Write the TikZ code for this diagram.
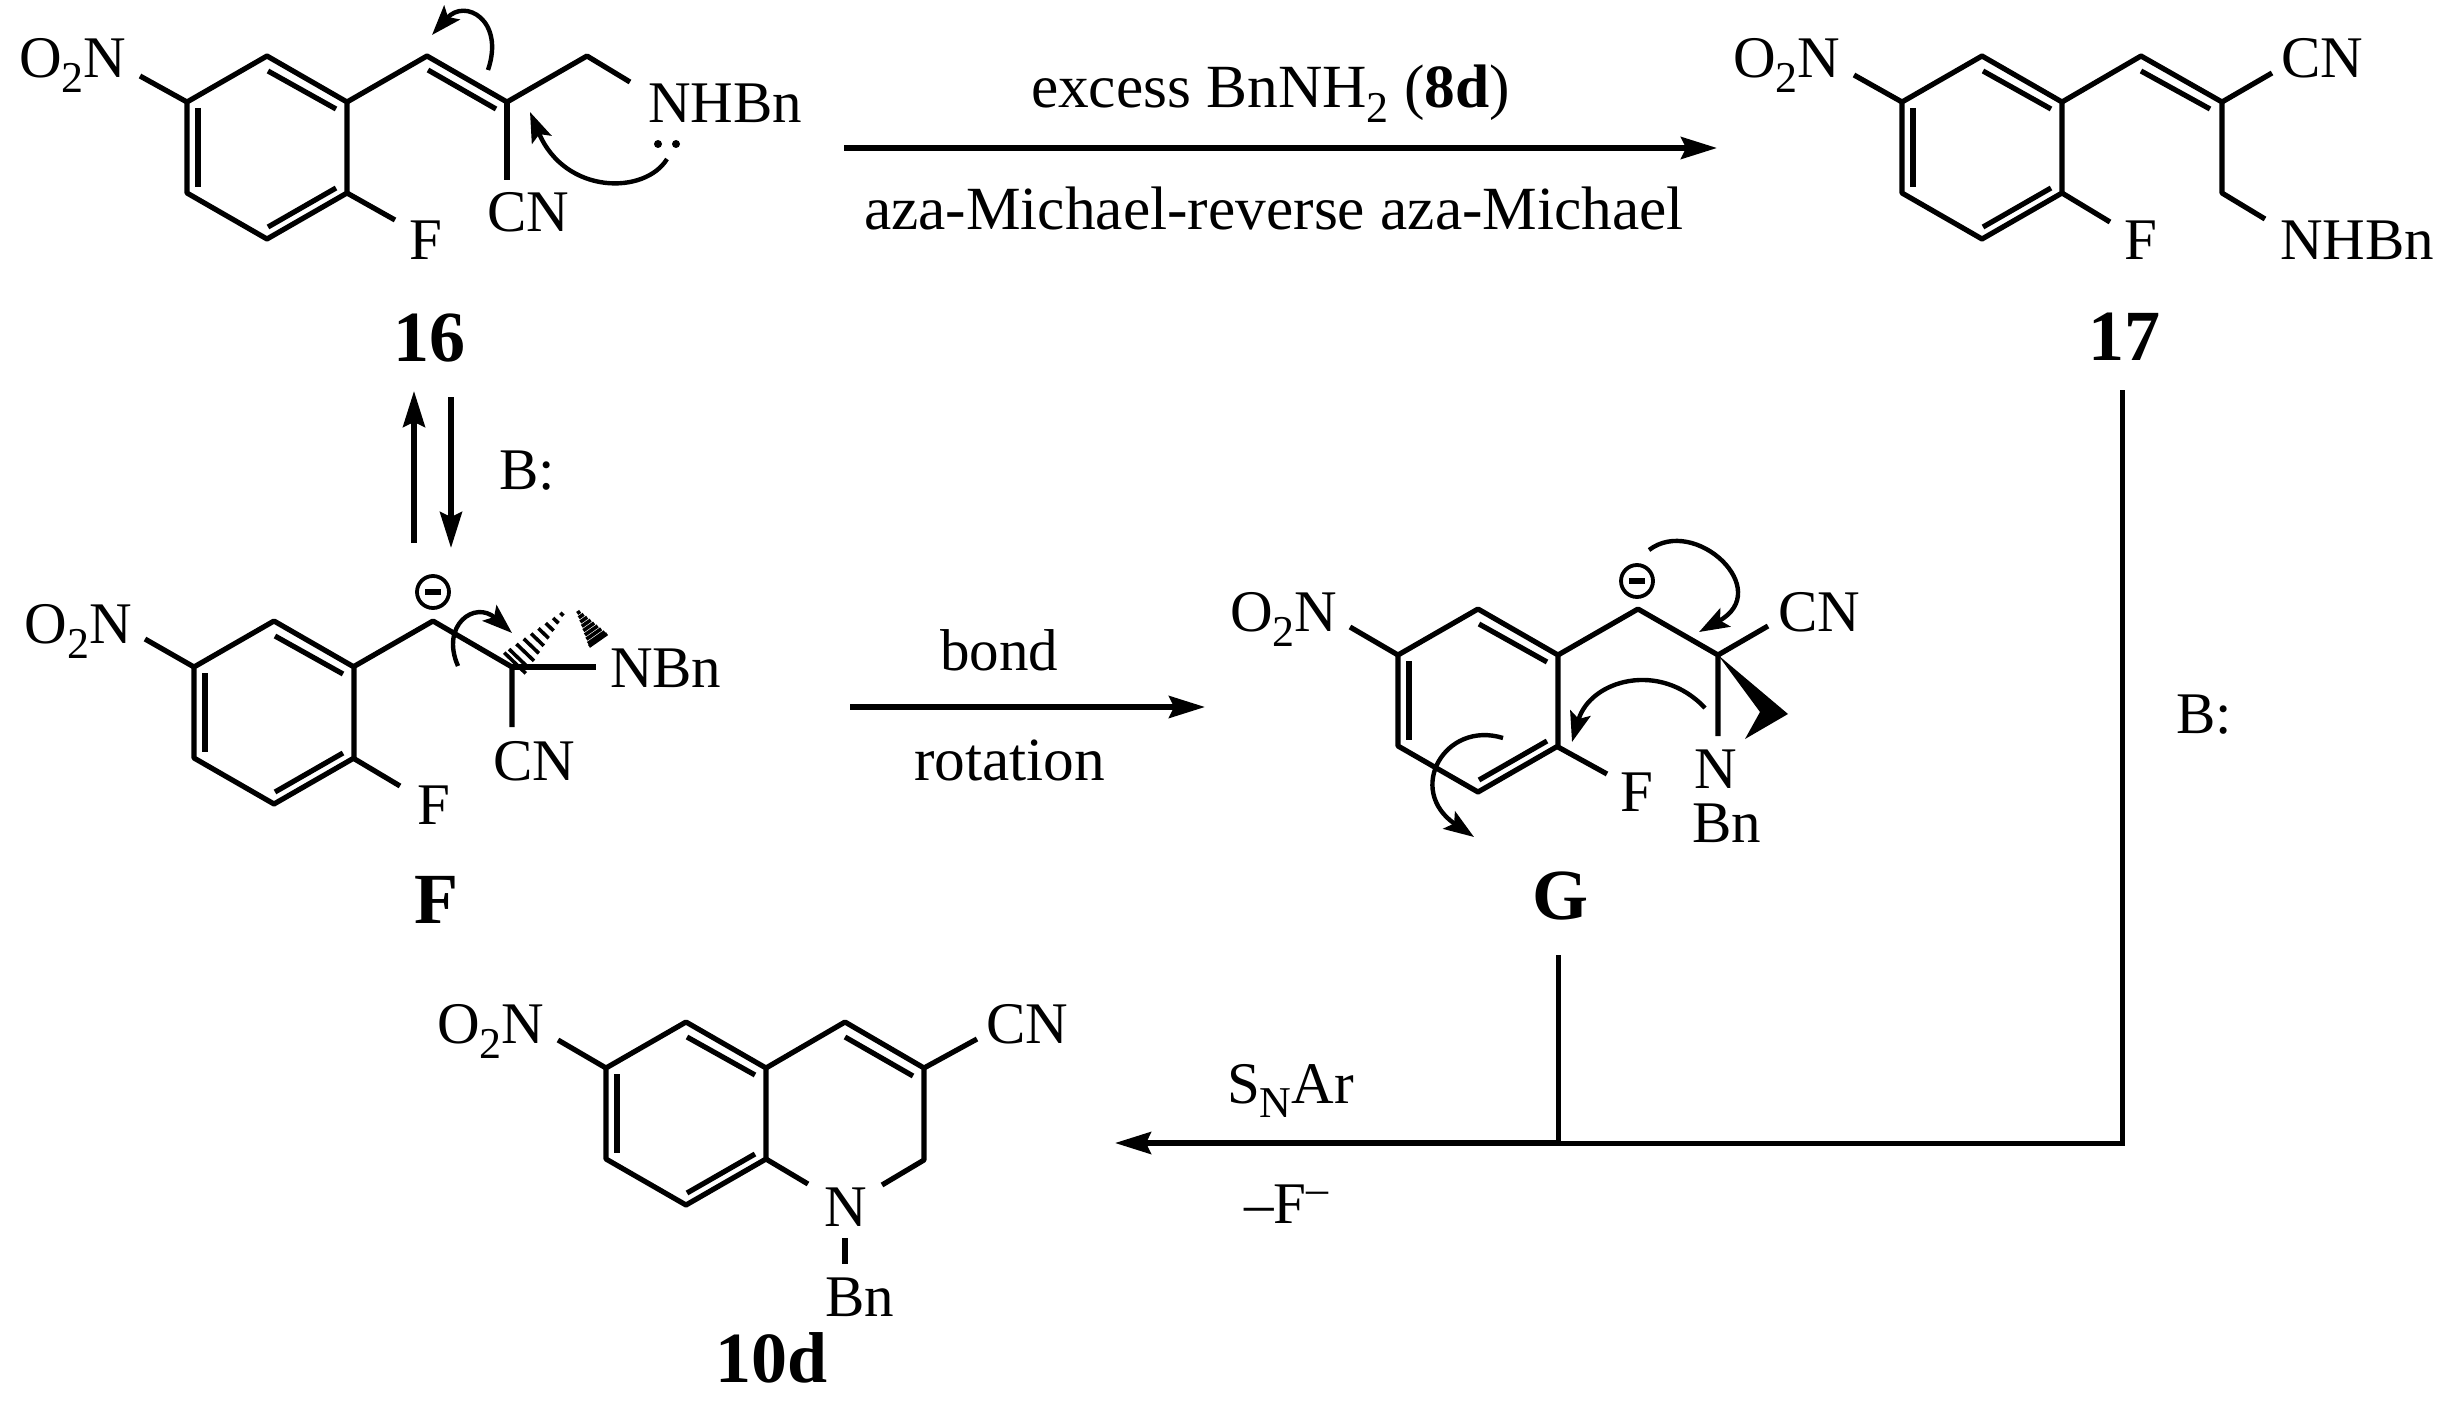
\documentclass[tikz,border=0pt]{standalone}
\usepackage{fontspec}
\setmainfont{Liberation Serif}
\usetikzlibrary{arrows.meta}
\newcommand{\lowtwo}{\raisebox{-7.5pt}{\fontsize{22}{24}\selectfont 2}}
\newcommand{\lowN}{\raisebox{-7pt}{\fontsize{22}{24}\selectfont N}}
\newcommand{\hashw}[5]{% ax ay bx by halfwidth
  \pgfmathsetmacro{\dlen}{veclen(#3-#1,#4-#2)}
  \pgfmathsetmacro{\nnx}{-(#4-#2)/\dlen}
  \pgfmathsetmacro{\nny}{(#3-#1)/\dlen}
  \foreach \tt in {0.08,0.2,0.32,0.44,0.56,0.68,0.8,0.92,1.0}{
    \pgfmathsetmacro{\cx}{#1+\tt*(#3-#1)}
    \pgfmathsetmacro{\cy}{#2+\tt*(#4-#2)}
    \pgfmathsetmacro{\hw}{#5*\tt+1}
    \draw[line width=1.8pt] (\cx-\hw*\nnx,\cy-\hw*\nny) -- (\cx+\hw*\nnx,\cy+\hw*\nny);
  }}
\tikzset{
  x=0.5pt,y=-0.5pt,
  bond/.style={line width=2.6pt,line join=round},
  rxn/.style={line width=2.6pt,-{Stealth[length=18pt,width=11pt,inset=2.5pt]}},
  plainline/.style={line width=2.5pt},
  curly/.style={line width=2.2pt,-{Stealth[length=15pt,width=10.5pt,inset=3pt]}},
  txt/.style={anchor=base west,inner sep=0pt,outer sep=0pt,font=\fontsize{29.5}{32}\selectfont},
  widetxt/.style={txt,font=\fontsize{30.7}{33}\selectfont},
  cpd/.style={anchor=base west,inner sep=0pt,outer sep=0pt,font=\fontsize{36}{38}\selectfont\bfseries},
  arring/.pic={
    \draw[bond] (0,0) -- (80,-46) -- (160,0) -- (160,91) -- (80,137) -- (0,91) -- cycle;
    \draw[bond] (81,-31) -- (149,7);
    \draw[bond] (11,6) -- (11,85);
    \draw[bond] (81,125) -- (149,86);
  },
  minuscharge/.pic={
    \draw[line width=1.9pt] (0,0) circle (16);
    \draw[line width=2.8pt] (-8,0) -- (8,0);
  }
}
\begin{document}
\begin{tikzpicture}
\useasboundingbox (0,0) rectangle (2453,1402);

% ---------- compound 16
\pic at (187,102) {arring};
\draw[bond] (187,102) -- (140,76);
\draw[bond] (347,102) -- (427,56) -- (507,102) -- (587,56) -- (630,82);
\draw[bond] (428,70) -- (496,109);
\draw[bond] (507,102) -- (507,180);
\draw[bond] (347,193) -- (395,220);
\node[txt] (s16no) at (19,78) {O\lowtwo N};
\node[txt] (s16f) at (409,259) {F};
\node[txt] (s16cn) at (487,231) {CN};
\node[txt] (s16nh) at (648,123) {NHBn};
\node[cpd] (c16) at (393,361) {16};
\fill (658,144) circle (4) (676,144) circle (4);
\draw[curly] (488,70) .. controls (505,20) and (465,-2) .. (432,35);
\draw[curly] (667,159) .. controls (645,195) and (565,195) .. (530,112);

% ---------- reaction 16 -> 17
\coordinate (r1a) at (844,148);
\coordinate (r1b) at (1717,148);
\draw[rxn] (r1a) -- (r1b);
\node[widetxt] (r1t) at (1031,108) {excess BnNH\lowtwo\ (\textbf{8d})};
\node[widetxt] (r1u) at (864,229) {aza-Michael-reverse aza-Michael};

% ---------- compound 17
\pic at (1902,102) {arring};
\draw[bond] (1902,102) -- (1854,75);
\draw[bond] (2062,102) -- (2141,56) -- (2222,102) -- (2222,193) -- (2265,219);
\draw[bond] (2141,71) -- (2210,109);
\draw[bond] (2222,102) -- (2272,73);
\draw[bond] (2062,193) -- (2110,222);
\node[txt] (s17no) at (1733,78) {O\lowtwo N};
\node[txt] (s17cn) at (2281,78) {CN};
\node[txt] (s17f) at (2124,259) {F};
\node[txt] (s17nh) at (2280,259) {NHBn};
\node[cpd] (c17) at (2088,360) {17};

% ---------- equilibrium 16 <-> F
\coordinate (eqa) at (414,543);
\coordinate (eqb) at (414,391);
\coordinate (eqc) at (451,397);
\coordinate (eqd) at (451,548);
\draw[rxn] (eqa) -- (eqb);
\draw[rxn] (eqc) -- (eqd);
\node[txt] (b1) at (499,489) {B:};

% ---------- compound F
\pic at (194,667) {arring};
\draw[bond] (194,667) -- (145,639);
\draw[bond] (353,667) -- (433,621) -- (512,667) -- (512,727);
\draw[bond] (512,667) -- (596,667);
\draw[bond] (353,758) -- (400,786);
\hashw{566}{610}{515}{663}{14}
\hashw{577}{610}{598}{640}{10}
\pic at (433,592) {minuscharge};
\node[txt] (fno) at (25,643) {O\lowtwo N};
\node[txt] (fnb) at (610,687) {NBn};
\node[txt] (fcn) at (493,780) {CN};
\node[txt] (ff) at (417,824) {F};
\node[cpd] (cf) at (414,923) {F};
\draw[curly] (458,666) .. controls (440,625) and (475,600) .. (512,633);

% ---------- reaction F -> G
\coordinate (r2a) at (850,707);
\coordinate (r2b) at (1205,707);
\draw[rxn] (r2a) -- (r2b);
\node[txt] (r2t) at (940,670) {bond};
\node[widetxt] (r2u) at (914,780) {rotation};

% ---------- compound G
\pic at (1398,655) {arring};
\draw[bond] (1398,655) -- (1350,627);
\draw[bond] (1558,655) -- (1638,609) -- (1718,655) -- (1718,736);
\draw[bond] (1718,655) -- (1768,626);
\draw[bond] (1558,747) -- (1607,774);
\fill (1718,655) -- (1788,714) -- (1745,739) -- (1760,712) -- cycle;
\pic at (1637,581) {minuscharge};
\node[txt] (gno) at (1230,631) {O\lowtwo N};
\node[txt] (gcn) at (1778,631) {CN};
\node[txt] (gf) at (1620,811) {F};
\node[txt] (gn) at (1694,788) {N};
\node[txt] (gb) at (1692,842) {Bn};
\node[cpd] (cg) at (1532,919) {G};
\draw[curly] (1649,550) .. controls (1695,515) and (1775,590) .. (1699,632);
\draw[curly] (1705,708) .. controls (1660,660) and (1590,680) .. (1572,742);
\draw[curly] (1503,738) .. controls (1445,720) and (1405,790) .. (1474,837);

% ---------- convergent arrow to 10d
\coordinate (top17) at (2122,390);
\coordinate (corner) at (2122,1143);
\coordinate (topg) at (1558,955);
\coordinate (joing) at (1558,1143);
\coordinate (tip10) at (1115,1143);
\draw[plainline,line join=miter] (top17) -- (corner) -- (joing);
\draw[plainline] (topg) -- (joing);
\draw[rxn] (joing) -- (tip10);
\node[txt] (b2) at (2176,733) {B:};
\node[txt] (snar) at (1227,1103) {S\lowN Ar};
\node[txt] (fminus) at (1244,1223) {–F\raisebox{10pt}{\fontsize{22}{24}\selectfont –}};

% ---------- compound 10d
\pic at (606,1068) {arring};
\draw[bond] (606,1068) -- (558,1040);
\draw[bond] (766,1068) -- (845,1022) -- (924,1068) -- (924,1160) -- (882,1185);
\draw[bond] (845,1037) -- (913,1076);
\draw[bond] (924,1068) -- (977,1039);
\draw[bond] (766,1159) -- (808,1184);
\draw[bond] (845,1238) -- (845,1264);
\node[txt] (dno) at (437,1043) {O\lowtwo N};
\node[txt] (dcn) at (986,1043) {CN};
\node[txt] (dn) at (824,1226) {N};
\node[txt] (db) at (825,1316) {Bn};
\node[cpd] (c10) at (715,1382) {10d};
\end{tikzpicture}
\end{document}
